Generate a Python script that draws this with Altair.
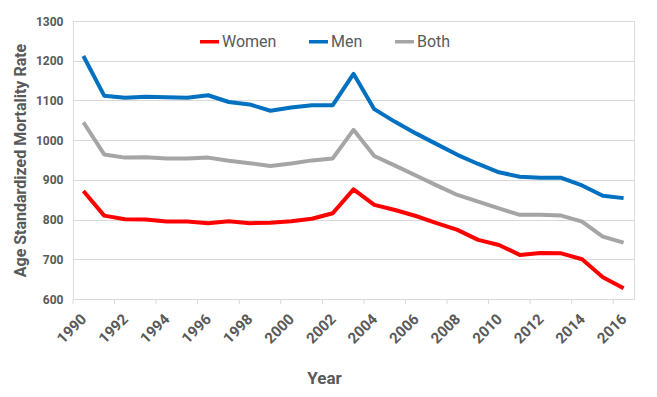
import altair as alt
import pandas as pd

years = list(range(1990, 2017))
women = [872, 810, 801, 800, 795, 795, 791, 796, 791, 792, 796, 802, 816, 876, 837,
         824, 809, 791, 774, 749, 736, 711, 716, 715, 700, 655, 627]
men = [1212, 1112, 1107, 1109, 1108, 1107, 1113, 1096, 1090, 1074, 1082, 1088, 1088, 1167, 1078,
       1046, 1017, 990, 963, 940, 919, 908, 905, 905, 886, 860, 854]
both = [1045, 964, 956, 957, 954, 954, 956, 948, 942, 935, 941, 949, 954, 1026, 960,
        936, 911, 886, 862, 845, 828, 812, 812, 810, 795, 757, 742]
series = ["Women", "Men", "Both"]
colors = ["#FF0000", "#0070C0", "#A5A5A5"]
y_ticks = [600, 700, 800, 900, 1000, 1100, 1200, 1300]
x_labels = years[::2]

rows = []
for name, vals in zip(series, [women, men, both]):
    for yr, v in zip(years, vals):
        rows.append({"Year": yr, "Rate": v, "Series": name})
df = pd.DataFrame(rows)
tick_df = pd.DataFrame({"b": [y - 0.5 for y in x_labels]})

FONT = "Roboto, sans-serif"
GREY = "#595959"
W, H = 561, 278

xscale = alt.Scale(domain=[1989.5, 2016.5], nice=False, zero=False)

lines = alt.Chart(df).mark_line(strokeWidth=4, strokeJoin="round").encode(
    x=alt.X("Year:Q", scale=xscale,
            axis=alt.Axis(values=x_labels, format="d", labelAngle=-45, labelAlign="right",
                          labelBaseline="middle", labelPadding=17, tickSize=0,
                          labelFont=FONT, labelFontSize=15, labelFontWeight="bold",
                          labelColor=GREY, domainColor="#D9D9D9", grid=False,
                          title="Year", titleFont=FONT, titleFontSize=17,
                          titleFontWeight="bold", titleColor=GREY,
                          titleX=251, titleY=79, titleAnchor="middle", titleBaseline="middle",
                          labelOverlap=False, labelBound=False)),
    y=alt.Y("Rate:Q", scale=alt.Scale(domain=[600, 1300], nice=False, zero=False),
            axis=alt.Axis(values=y_ticks, format="d", tickSize=0, domain=False,
                          gridColor="#D9D9D9",
                          labelFont=FONT, labelFontSize=12, labelFontWeight="bold",
                          labelColor=GREY, labelPadding=10,
                          title="Age Standardized Mortality Rate", titleFont=FONT,
                          titleFontSize=16, titleFontWeight="bold", titleColor=GREY,
                          titleX=-53, titleY=139, titleAnchor="middle", titleBaseline="middle")),
    color=alt.Color("Series:N", sort=series,
                    scale=alt.Scale(domain=series, range=colors),
                    legend=alt.Legend(orient="none", legendX=125, legendY=9, direction="horizontal",
                                      title=None, symbolType="stroke", symbolSize=361,
                                      symbolStrokeWidth=3.5, labelFont=FONT, labelFontSize=16,
                                      labelColor=GREY, labelOffset=1, columnPadding=25)),
)

ticks = alt.Chart(tick_df).mark_rule(color="#D9D9D9", strokeWidth=1).encode(
    x=alt.X("b:Q", scale=xscale),
    y=alt.value(H),
    y2=alt.value(H + 5),
)

chart = alt.layer(lines, ticks).properties(
    width=W, height=H,
    autosize=alt.AutoSizeParams(type="none"),
    padding={"left": 65, "top": 13, "right": 10, "bottom": 90},
).configure_view(stroke=None).configure(background="white")

chart.save("out.html", embed_options={"renderer": "svg", "actions": False})
